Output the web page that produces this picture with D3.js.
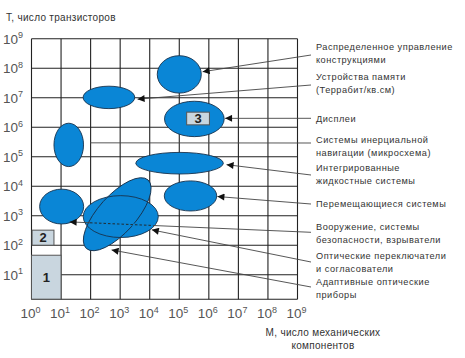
<!DOCTYPE html>
<html><head><meta charset="utf-8">
<script src="https://cdn.jsdelivr.net/npm/d3@7"></script>
<style>body{margin:0;background:#fff}svg{display:block}</style>
</head><body><svg id="c" width="465" height="358"></svg>
<script>
// ---- data (log10 decades) ----
const xExponents = [0,1,2,3,4,5,6,7,8,9];
const yExponents = [1,2,3,4,5,6,7,8,9];
const xTitle = ["М, число механических", "компонентов"];
const yTitle = "Т, число транзисторов";
const regionLabels = [
  ["Распределенное управление","конструкциями"],
  ["Устройства памяти","(Террабит/кв.см)"],
  ["Дисплеи"],
  ["Системы инерциальной","навигации (микросхема)"],
  ["Интегрированные","жидкостные системы"],
  ["Перемещающиеся системы"],
  ["Вооружение, системы","безопасности, взрыватели"],
  ["Оптические переключатели","и согласователи"],
  ["Адаптивные оптические","приборы"]
];
// ellipse centres (log10 M, log10 T) and half-extents in decades
const ellipseM  = [5.00, 2.62, 5.51, 1.26, 5.01, 5.38, 1.02, 3.02, 2.90];
const ellipseT  = [7.79, 7.01, 6.28, 5.40, 4.78, 3.67, 3.31, 2.97, 3.05];
const ellipseRM = [0.745,0.873,1.01, 0.50, 1.48, 0.887,0.745,1.27, 1.56];
const ellipseRT = [0.634,0.38, 0.60, 0.735,0.366,0.51, 0.59, 0.71, 0.64];
const ellipseTilt = [0,0,0,0,0,0,0,0,-48];
// annotation targets (log10 M, log10 T)
const targetM = [5.79, 3.59, 6.55, 1.98, 6.60, 6.29, 1.29, 4.07, 2.71];
const targetT = [7.88, 6.95, 6.30, 5.47, 4.73, 3.65, 2.79, 2.52, 1.84];
const hasArrow = [1,1,1,0,1,1,1,1,1];
// numbered boxes: [m0,m1,t0,t1] decades
const boxNames = ["1","2","3"];
const boxM0 = [0, 0.02, 5.25];
const boxM1 = [1, 0.76, 6.02];
const boxT0 = [0.17, 2.0, 6.08];
const boxT1 = [1.66, 2.51, 6.51];

// ---- layout ----
const svg = d3.select("#c");
const x = d3.scaleLinear().domain([0,9]).range([31.5,297.5]);
const y = d3.scaleLinear().domain([1,9]).range([274.7,38.7]);
const yBottom = 299.2;
const labelX = 316, anchorX = 311;
const labelY = [46.5, 76.5, 118.3, 139.3, 167.3, 203.3, 226.7, 255.7, 281.7];
const anchorY = [55, 85, 118.3, 143, 175, 204, 232.3, 262, 287];
const lineGap = 13.2;

const defs = svg.append("defs");
defs.append("marker").attr("id","arr").attr("viewBox","0 0 10 10")
  .attr("refX",10).attr("refY",5).attr("markerWidth",9).attr("markerHeight",7)
  .attr("markerUnits","userSpaceOnUse").attr("orient","auto")
  .append("path").attr("d","M0,0L10,5L0,10Z").attr("fill","#111");

// grid
const grid = svg.append("g");
grid.selectAll("line.v").data(xExponents).join("line")
  .attr("x1",d=>x(d)).attr("x2",d=>x(d)).attr("y1",yBottom).attr("y2",y(9))
  .attr("stroke","#222").attr("stroke-width",1.1);
grid.selectAll("line.h").data(yExponents).join("line")
  .attr("y1",d=>y(d)).attr("y2",d=>y(d)).attr("x1",x(0)).attr("x2",x(9))
  .attr("stroke","#222").attr("stroke-width",1.1);
grid.append("line").attr("x1",x(0)).attr("x2",x(9)).attr("y1",yBottom).attr("y2",yBottom)
  .attr("stroke","#222").attr("stroke-width",1.1);

// numbered boxes
function drawBox(g,i){
  const x0=x(boxM0[i]), x1=x(boxM1[i]), y0=y(boxT1[i]), y1=Math.min(yBottom,y(boxT0[i]));
  g.append("rect").attr("x",x0).attr("y",y0).attr("width",x1-x0).attr("height",y1-y0)
    .attr("fill","#c9d6df").attr("stroke","#555").attr("stroke-width",1);
  g.append("text").attr("x",(x0+x1)/2).attr("y",(y0+y1)/2+4.5).attr("text-anchor","middle")
    .attr("font-family","Liberation Sans, Arial, sans-serif").attr("font-weight","bold")
    .attr("font-size",13).attr("fill","#222").text(boxNames[i]);
}
const boxG = svg.append("g");
drawBox(boxG,0); drawBox(boxG,1);

// ellipses
const idx = d3.range(ellipseM.length);
const eg = svg.append("g");
const ell = (sel)=>sel.attr("cx",i=>x(ellipseM[i])).attr("cy",i=>y(ellipseT[i]))
  .attr("rx",i=>x(ellipseRM[i])-x(0)).attr("ry",i=>y(0)-y(ellipseRT[i]))
  .attr("transform",i=>ellipseTilt[i]?`rotate(${ellipseTilt[i]},${x(ellipseM[i])},${y(ellipseT[i])})`:null);
eg.selectAll("ellipse.f").data(idx).join("ellipse").call(ell).attr("fill","#0a86d6");
eg.selectAll("ellipse.s").data(idx).join("ellipse").call(ell)
  .attr("fill","none").attr("stroke","#17324d").attr("stroke-width",0.9);

// box 3 on top of the display ellipse
const box3G = svg.append("g");
drawBox(box3G,2);

// annotation lines
const ag = svg.append("g");
idx.forEach(i=>{
  const tx=x(targetM[i]), ty=y(targetT[i]);
  ag.append("line").attr("x1",anchorX).attr("y1",anchorY[i]).attr("x2",tx).attr("y2",ty)
    .attr("stroke","#444").attr("stroke-width",0.9)
    .attr("marker-end",hasArrow[i]?"url(#arr)":null);
});
// dashed segment of weapons line inside ellipses
{
  const i=6, tx=x(targetM[i]), ty=y(targetT[i]);
  const f=(xx)=>ty+(anchorY[i]-ty)*(xx-tx)/(anchorX-tx);
  ag.append("line").attr("x1",90).attr("y1",f(90)).attr("x2",153).attr("y2",f(153))
    .attr("stroke","#0a86d6").attr("stroke-width",2);
  ag.append("line").attr("x1",90).attr("y1",f(90)).attr("x2",153).attr("y2",f(153))
    .attr("stroke","#222").attr("stroke-width",0.9).attr("stroke-dasharray","2.5,2");
}

// region labels
const lf = "Liberation Sans, Arial, sans-serif";
regionLabels.forEach((lines,i)=>{
  lines.forEach((t,k)=>{
    svg.append("text").attr("x",labelX).attr("y",labelY[i]+3.3+k*lineGap)
      .attr("font-family",lf).attr("font-size",9.2).attr("letter-spacing",0.5)
      .attr("fill","#333").text(t);
  });
});

// tick labels with superscripts
const tf = "Liberation Sans Narrow, Arial Narrow, Liberation Sans, sans-serif";
const xl = svg.append("g");
xExponents.forEach(e=>{
  const t = xl.append("text").attr("x",x(e)-1).attr("y",318).attr("text-anchor","middle")
    .attr("font-family",tf).attr("font-size",13.5).attr("fill","#555");
  t.append("tspan").text("10");
  t.append("tspan").attr("dy",-5.5).attr("font-size",9).text(e);
});
yExponents.forEach(e=>{
  const t = xl.append("text").attr("x",23).attr("y",y(e)+5).attr("text-anchor","end")
    .attr("font-family",tf).attr("font-size",13.5).attr("fill","#555");
  t.append("tspan").text("10");
  t.append("tspan").attr("dy",-5.5).attr("font-size",9).text(e);
});

// titles
svg.append("text").attr("x",6).attr("y",21).attr("font-family",lf).attr("font-size",10)
  .attr("letter-spacing",0.3).attr("fill","#333").text(yTitle);
xTitle.forEach((t,k)=>{
  svg.append("text").attr("x",323).attr("y",336+k*13).attr("text-anchor","middle")
    .attr("font-family",lf).attr("font-size",10).attr("letter-spacing",0.3)
    .attr("fill","#333").text(t);
});
</script></body></html>
